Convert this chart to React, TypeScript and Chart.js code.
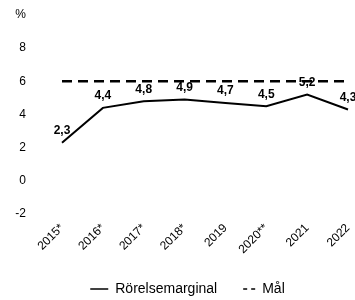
import React, { useEffect, useRef } from "react";
import { Chart, registerables } from "chart.js";

Chart.register(...registerables);

const categories = ["2015*", "2016*", "2017*", "2018*", "2019", "2020**", "2021", "2022"];
const margin = [2.3, 4.4, 4.8, 4.9, 4.7, 4.5, 5.2, 4.3];
const target = [6, 6, 6, 6, 6, 6, 6, 6];
const seriesNames = ["Rörelsemarginal", "Mål"];

const FONT = "'Liberation Sans', Arial, sans-serif";

const valueLabels = {
  id: "valueLabels",
  afterLayout(chart: any) {
    // let the y tick labels extend left of the scale box without being clipped
    chart.scales.y.left = 0;
  },
  afterDatasetsDraw(chart: any) {
    const ctx = chart.ctx;
    const meta = chart.getDatasetMeta(0);
    ctx.save();
    ctx.font = `bold 12px ${FONT}`;
    ctx.fillStyle = "#000";
    ctx.textAlign = "center";
    ctx.textBaseline = "middle";
    meta.data.forEach((pt: any, i: number) => {
      const v = chart.data.datasets[0].data[i];
      ctx.fillText(String(v).replace(".", ","), pt.x, pt.y - 12);
    });
    ctx.restore();
  },
};

export default function App() {
  const ref = useRef<HTMLCanvasElement | null>(null);
  useEffect(() => {
    document.body.style.margin = "0";
    const chart = new Chart(ref.current!, {
      type: "line",
      data: {
        labels: categories,
        datasets: [
          {
            label: seriesNames[0],
            data: margin,
            borderColor: "#000",
            backgroundColor: "#000",
            borderWidth: 2,
            pointRadius: 0,
            tension: 0,
            pointStyle: "line",
          },
          {
            label: seriesNames[1],
            data: target,
            borderColor: "#000",
            backgroundColor: "#000",
            borderWidth: 2.5,
            borderDash: [10, 6],
            pointRadius: 0,
            tension: 0,
            pointStyle: "line",
          },
        ],
      },
      options: {
        responsive: false,
        animation: false,
        layout: { padding: { left: 27, right: 7, top: 15, bottom: -6 } },
        plugins: {
          tooltip: { enabled: false },
          legend: {
            position: "bottom",
            labels: {
              color: "#000",
              font: { family: FONT, size: 14 },
              usePointStyle: true,
              pointStyleWidth: 18,
              padding: 20,
              generateLabels(chart: any) {
                const items = Chart.defaults.plugins.legend.labels.generateLabels(chart);
                items.forEach((it: any) => {
                  it.lineWidth = 1.5;
                  it.lineDash = it.datasetIndex === 1 ? [0, 6, 4, 4, 4, 100] : [];
                });
                return items;
              },
            },
          },
        },
        scales: {
          x: {
            offset: false,
            grid: { display: false, drawTicks: false },
            border: { display: false },
            afterFit(s: any) {
              s.height = 48;
              s.paddingLeft = 0;
              s.paddingRight = 0;
            },
            ticks: {
              color: "#000",
              font: { family: FONT, size: 12 },
              maxRotation: 45,
              minRotation: 45,
              padding: 7,
            },
          },
          y: {
            min: -2,
            max: 10,
            grid: { display: false, drawTicks: false },
            border: { display: false },
            afterFit(s: any) {
              s.width = 35;
              s.paddingTop = 7;
              s.paddingBottom = 7;
            },
            ticks: {
              stepSize: 2,
              color: "#000",
              font: { family: FONT, size: 12 },
              padding: 36,
              callback: (v: any) => (v === 10 ? "%" : String(v)),
            },
          },
        },
      },
      plugins: [valueLabels],
    });
    return () => chart.destroy();
  }, []);
  return (
    <div style={{ position: "absolute", left: 0, top: 0, width: 355, height: 300 }}>
      <canvas ref={ref} width={355} height={300} />
    </div>
  );
}
